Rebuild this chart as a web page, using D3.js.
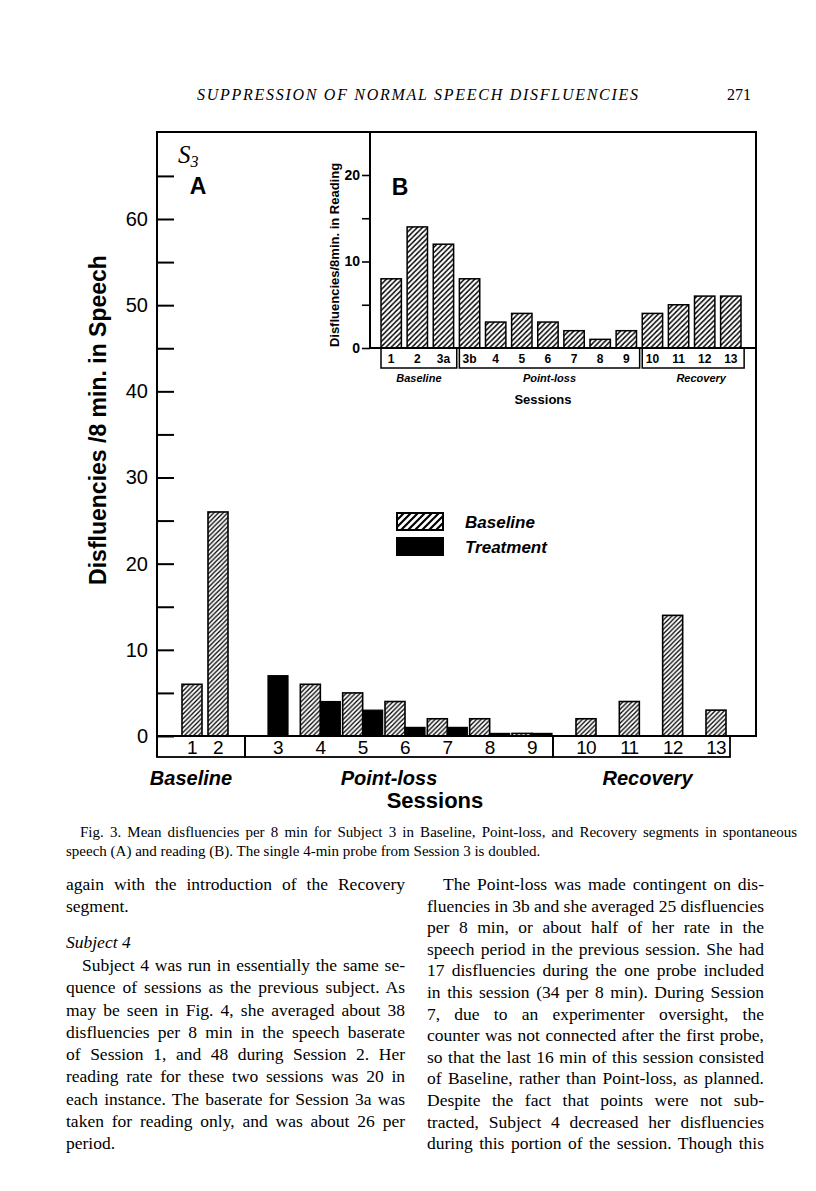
<!DOCTYPE html>
<html>
<head>
<meta charset="utf-8">
<script src="https://cdn.jsdelivr.net/npm/d3@7"></script>
<style>
  html, body { margin: 0; padding: 0; background: #fff; }
  svg { display: block; }
</style>
</head>
<body>
<div id="page"></div>
<script>
// Panel A: disfluencies per 8 min in speech, by session.
const sessionsA = ["1", "2", "3", "4", "5", "6", "7", "8", "9", "10", "11", "12", "13"];
const baselineA = [6, 26, null, 6, 5, 4, 2, 2, 0.3, 2, 4, 14, 3];
const treatmentA = [null, null, 7, 4, 3, 1, 1, 0.3, 0.3, null, null, null, null];
const segmentOfA = [0, 0, 1, 1, 1, 1, 1, 1, 1, 2, 2, 2, 2];

// Panel B: disfluencies per 8 min in reading, by session.
const sessionsB = ["1", "2", "3a", "3b", "4", "5", "6", "7", "8", "9", "10", "11", "12", "13"];
const readingB = [8, 14, 12, 8, 3, 4, 3, 2, 1, 2, 4, 5, 6, 6];
const segmentOfB = [0, 0, 0, 1, 1, 1, 1, 1, 1, 1, 2, 2, 2, 2];

const segmentNames = ["Baseline", "Point-loss", "Recovery"];
const ticksA = [0, 10, 20, 30, 40, 50, 60];
const ticksB = [0, 10, 20];
const legendLabels = ["Baseline", "Treatment"];

// Page text around the figure.
const headerText = "SUPPRESSION OF NORMAL SPEECH DISFLUENCIES";
const pageNumber = "271";
const captionLines = [
  "Fig. 3. Mean disfluencies per 8 min for Subject 3 in Baseline, Point-loss, and Recovery segments in spontaneous",
  "speech (A) and reading (B). The single 4-min probe from Session 3 is doubled.",
];
const leftColumn = [
  "again with the introduction of the Recovery",
  "segment.",
];
const subjectHeading = "Subject 4";
const leftColumn2 = [
  "Subject 4 was run in essentially the same se-",
  "quence of sessions as the previous subject. As",
  "may be seen in Fig. 4, she averaged about 38",
  "disfluencies per 8 min in the speech baserate",
  "of Session 1, and 48 during Session 2. Her",
  "reading rate for these two sessions was 20 in",
  "each instance. The baserate for Session 3a was",
  "taken for reading only, and was about 26 per",
  "period.",
];
const rightColumn = [
  "The Point-loss was made contingent on dis-",
  "fluencies in 3b and she averaged 25 disfluencies",
  "per 8 min, or about half of her rate in the",
  "speech period in the previous session. She had",
  "17 disfluencies during the one probe included",
  "in this session (34 per 8 min). During Session",
  "7, due to an experimenter oversight, the",
  "counter was not connected after the first probe,",
  "so that the last 16 min of this session consisted",
  "of Baseline, rather than Point-loss, as planned.",
  "Despite the fact that points were not sub-",
  "tracted, Subject 4 decreased her disfluencies",
  "during this portion of the session. Though this",
];

const width = 816;
const height = 1191;
const sans = "'Liberation Sans', Arial, sans-serif";
const serif = "'Liberation Serif', 'Times New Roman', serif";

/**
 * SVG container.
 */
const svg = d3
  .select("#page")
  .append("svg")
  .attr("width", width)
  .attr("height", height);

svg.append("rect").attr("width", width).attr("height", height).attr("fill", "#fff");

// Hatch patterns for the Baseline bars.
const defs = svg.append("defs");
function addHatch(id, size, strokeWidth) {
  defs
    .append("pattern")
    .attr("id", id)
    .attr("patternUnits", "userSpaceOnUse")
    .attr("width", size)
    .attr("height", size)
    .append("path")
    .attr("d", `M-1,1 l2,-2 M0,${size} l${size},${-size} M${size - 1},${size + 1} l2,-2`)
    .attr("stroke", "#000")
    .attr("stroke-width", strokeWidth);
}
addHatch("hatchA", 4.6, 1.3);
addHatch("hatchB", 5.2, 1.4);
addHatch("hatchLegend", 7, 2.2);

/**
 * Panel A (speech).
 */
const frame = { left: 157, right: 756, top: 132 };
const yA = d3.scaleLinear().domain([0, 60]).range([736, 219]);
const boxEdgesA = [157, 245, 553, 730];
const boxBottomA = 757;
const xRangesA = [[192, 218], [278, 532], [586, 716]];
const barW = 20;

// One point scale per segment of sessions.
const xSegA = xRangesA.map((range, s) =>
  d3
    .scalePoint()
    .domain(sessionsA.filter((_, i) => segmentOfA[i] === s))
    .range(range)
);
const xA = (i) => xSegA[segmentOfA[i]](sessionsA[i]);

const gA = svg.append("g");

// Bars: baseline hatched on the left, treatment black on the right.
sessionsA.forEach((s, i) => {
  const c = xA(i);
  const hasB = baselineA[i] !== null;
  const hasT = treatmentA[i] !== null;
  if (hasB) {
    const x0 = hasT ? c - barW : c - barW / 2;
    gA.append("rect")
      .attr("x", x0)
      .attr("y", yA(baselineA[i]))
      .attr("width", barW)
      .attr("height", yA(0) - yA(baselineA[i]))
      .attr("fill", "url(#hatchA)")
      .attr("stroke", "#000")
      .attr("stroke-width", 1.6);
  }
  if (hasT) {
    const x0 = hasB ? c : c - barW / 2;
    gA.append("rect")
      .attr("x", x0)
      .attr("y", yA(treatmentA[i]))
      .attr("width", barW)
      .attr("height", yA(0) - yA(treatmentA[i]))
      .attr("fill", "#000")
      .attr("stroke", "#000")
      .attr("stroke-width", 1.2);
  }
});

// Session boxes under the axis.
segmentNames.forEach((name, s) => {
  gA.append("rect")
    .attr("x", boxEdgesA[s])
    .attr("y", yA(0))
    .attr("width", boxEdgesA[s + 1] - boxEdgesA[s])
    .attr("height", boxBottomA - yA(0))
    .attr("fill", "none")
    .attr("stroke", "#000")
    .attr("stroke-width", 1.8);
  gA.append("text")
    .attr("x", (boxEdgesA[s] + boxEdgesA[s + 1]) / 2 - (s === 2 ? -6 : 10))
    .attr("y", 785)
    .attr("text-anchor", "middle")
    .attr("font-family", sans)
    .attr("font-size", 20)
    .attr("font-weight", "bold")
    .attr("font-style", "italic")
    .text(name);
});

// Frame lines.
gA.append("path")
  .attr("d", `M${frame.left},${boxBottomA}V${frame.top}H${frame.right}V${yA(0)}H${frame.left}`)
  .attr("fill", "none")
  .attr("stroke", "#000")
  .attr("stroke-width", 2);

// Y axis with inward ticks.
const axisA = d3
  .axisLeft(yA)
  .tickValues(d3.range(0, 70, 5))
  .tickSizeInner(-17)
  .tickSizeOuter(0)
  .tickPadding(9)
  .tickFormat((d) => (ticksA.includes(d) ? d : ""));
const axisAG = gA.append("g").attr("transform", `translate(${frame.left},0)`).call(axisA);
axisAG.select(".domain").remove();
axisAG.selectAll("line").attr("stroke-width", 2);
axisAG
  .selectAll("text")
  .attr("font-family", sans)
  .attr("font-size", 20)
  .attr("fill", "#000");

gA.selectAll(".sessA")
  .data(sessionsA)
  .join("text")
  .attr("x", (d, i) => xA(i))
  .attr("y", 754)
  .attr("text-anchor", "middle")
  .attr("font-family", sans)
  .attr("font-size", 19)
  .attr("letter-spacing", -0.8)
  .text((d) => d);

gA.append("text")
  .attr("x", 435)
  .attr("y", 808)
  .attr("text-anchor", "middle")
  .attr("font-family", sans)
  .attr("font-size", 22)
  .attr("font-weight", "bold")
  .text("Sessions");

// Y axis title.
gA.append("text")
  .attr("transform", "translate(106,420) rotate(-90)")
  .attr("text-anchor", "middle")
  .attr("font-family", sans)
  .attr("font-size", 23)
  .attr("font-weight", "bold")
  .text("Disfluencies /8 min. in Speech");

// Panel marks.
const s3 = gA.append("text").attr("x", 178).attr("y", 163).attr("font-family", serif).attr("font-style", "italic");
s3.append("tspan").attr("font-size", 25).text("S");
s3.append("tspan").attr("font-size", 16).attr("dy", 4).text("3");
gA.append("text")
  .attr("x", 198)
  .attr("y", 194)
  .attr("text-anchor", "middle")
  .attr("font-family", sans)
  .attr("font-size", 23)
  .attr("font-weight", "bold")
  .text("A");

/**
 * Legend.
 */
legendLabels.forEach((label, i) => {
  svg.append("rect")
    .attr("x", 397)
    .attr("y", 513 + i * 25)
    .attr("width", 46)
    .attr("height", 17)
    .attr("fill", i === 0 ? "url(#hatchLegend)" : "#000")
    .attr("stroke", "#000")
    .attr("stroke-width", 2);
  svg.append("text")
    .attr("x", 465)
    .attr("y", 528 + i * 25)
    .attr("font-family", sans)
    .attr("font-size", 17)
    .attr("font-weight", "bold")
    .attr("font-style", "italic")
    .text(label);
});

/**
 * Panel B (reading), inset.
 */
const yB = d3.scaleLinear().domain([0, 20]).range([348, 175]);
const xB = d3.scaleBand().domain(sessionsB).range([381, 741]).paddingInner(0.22).paddingOuter(0);
const leftB = 370;
const boxBottomB = 368;
const gB = svg.append("g");

gB.selectAll(".barB")
  .data(readingB)
  .join("rect")
  .attr("x", (d, i) => xB(sessionsB[i]))
  .attr("y", (d) => yB(d))
  .attr("width", xB.bandwidth())
  .attr("height", (d) => yB(0) - yB(d))
  .attr("fill", "url(#hatchB)")
  .attr("stroke", "#000")
  .attr("stroke-width", 1.5);

gB.append("path")
  .attr("d", `M${leftB},${frame.top}V${yB(0)}H${frame.right}`)
  .attr("fill", "none")
  .attr("stroke", "#000")
  .attr("stroke-width", 2);

const axisB = d3
  .axisLeft(yB)
  .tickValues(d3.range(0, 25, 5))
  .tickSizeInner(8)
  .tickSizeOuter(0)
  .tickPadding(2)
  .tickFormat((d) => (ticksB.includes(d) ? d : ""));
const axisBG = gB.append("g").attr("transform", `translate(${leftB},0)`).call(axisB);
axisBG.select(".domain").remove();
axisBG.selectAll("line").attr("stroke-width", 1.6);
axisBG
  .selectAll("text")
  .attr("font-family", sans)
  .attr("font-size", 14)
  .attr("font-weight", "bold")
  .attr("fill", "#000");

// Session boxes for B, built from the band scale.
const stepB = xB.step();
const startB = xB.range()[0];
segmentNames.forEach((name, s) => {
  const first = segmentOfB.indexOf(s);
  const last = segmentOfB.lastIndexOf(s);
  const x0 = startB + first * stepB;
  const x1 = startB + (last + 1) * stepB - stepB * 0.1;
  gB.append("rect")
    .attr("x", x0)
    .attr("y", yB(0))
    .attr("width", x1 - x0)
    .attr("height", boxBottomB - yB(0))
    .attr("fill", "none")
    .attr("stroke", "#000")
    .attr("stroke-width", 1.5);
  gB.append("text")
    .attr("x", (x0 + x1) / 2 + (s === 2 ? 8 : 0))
    .attr("y", 382)
    .attr("text-anchor", "middle")
    .attr("font-family", sans)
    .attr("font-size", 11)
    .attr("font-weight", "bold")
    .attr("font-style", "italic")
    .text(name);
});

gB.selectAll(".sessB")
  .data(sessionsB)
  .join("text")
  .attr("x", (d) => xB(d) + xB.bandwidth() / 2)
  .attr("y", 363)
  .attr("text-anchor", "middle")
  .attr("font-family", sans)
  .attr("font-size", 12)
  .attr("font-weight", "bold")
  .text((d) => d);

gB.append("text")
  .attr("x", 543)
  .attr("y", 404)
  .attr("text-anchor", "middle")
  .attr("font-family", sans)
  .attr("font-size", 13)
  .attr("font-weight", "bold")
  .text("Sessions");

gB.append("text")
  .attr("transform", "translate(339,255) rotate(-90)")
  .attr("text-anchor", "middle")
  .attr("font-family", sans)
  .attr("font-size", 13)
  .attr("font-weight", "bold")
  .text("Disfluencies/8min. in Reading");

gB.append("text")
  .attr("x", 400)
  .attr("y", 195)
  .attr("text-anchor", "middle")
  .attr("font-family", sans)
  .attr("font-size", 23)
  .attr("font-weight", "bold")
  .text("B");

/**
 * Page text.
 */
// Justify a text line between two x positions by widening its word spacing.
function textLine(x, y, str, size, target, opts = {}) {
  const t = svg
    .append("text")
    .attr("x", x)
    .attr("y", y)
    .attr("font-family", serif)
    .attr("font-size", size)
    .attr("font-style", opts.italic ? "italic" : "normal")
    .text(str);
  if (target) {
    const natural = t.node().getComputedTextLength();
    const spaces = (str.match(/ /g) || []).length;
    if (spaces > 0) t.attr("word-spacing", (target - natural) / spaces);
  }
  return t;
}

textLine(197, 100, headerText, 16, null, { italic: true }).attr("textLength", 441);
textLine(727, 100, pageNumber, 16, null);

textLine(80, 837, captionLines[0], 15, 717);
textLine(66, 856, captionLines[1], 15, null);

const colL = [66, 405];
const colR = [427, 764];
const lead = 21.6;
const indent = 16;
const bodySize = 17.5;

textLine(colL[0], 890, leftColumn[0], bodySize, colL[1] - colL[0]);
textLine(colL[0], 890 + lead, leftColumn[1], bodySize, null);
textLine(colL[0], 948, subjectHeading, bodySize, null, { italic: true });
leftColumn2.forEach((line, i) => {
  const last = i === leftColumn2.length - 1;
  const x = i === 0 ? colL[0] + indent : colL[0];
  textLine(x, 971 + i * 22.25, line, bodySize, last ? null : colL[1] - x);
});
rightColumn.forEach((line, i) => {
  const x = i === 0 ? colR[0] + indent : colR[0];
  textLine(x, 890 + i * lead, line, bodySize, colR[1] - x);
});
</script>
</body>
</html>
